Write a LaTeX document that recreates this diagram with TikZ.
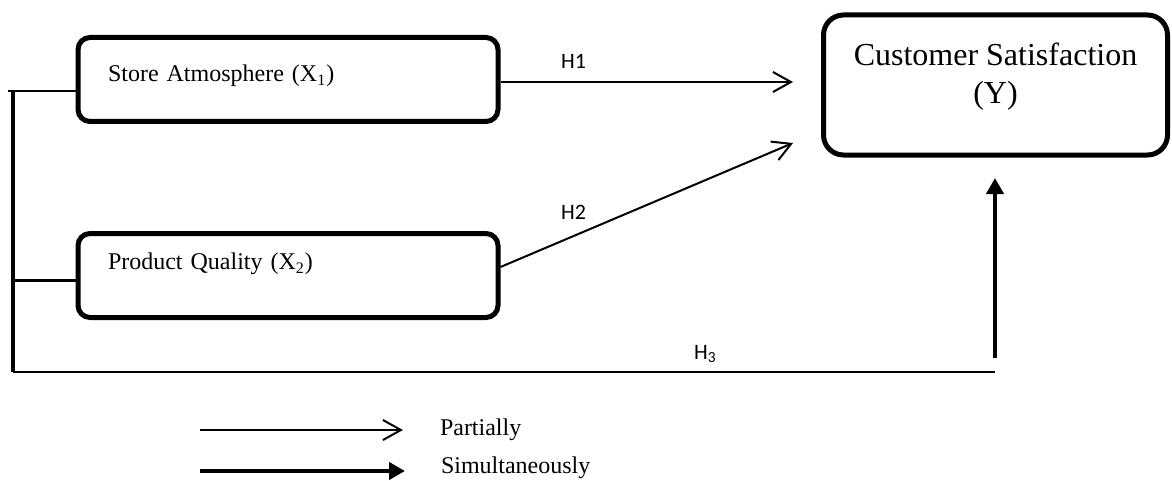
\documentclass[tikz,border=0pt]{standalone}
\usepackage{fontspec}
\setmainfont{Liberation Serif}
\newfontfamily\hypfont{Carlito}
\usetikzlibrary{arrows.meta}
\newcommand{\xvar}[2]{#1 (X\textsubscript{#2})}

\begin{document}
\begin{tikzpicture}[x=0.5pt, y=-0.5pt,
    construct/.style={draw, line width=2.5pt, rounded corners=6pt,
      minimum width=210pt, minimum height=42pt, text width=180pt,
      align=left, font=\fontsize{12}{14}\selectfont},
    outcome/.style={draw, line width=2.5pt, rounded corners=10pt,
      minimum width=172pt, minimum height=70pt, align=center,
      font=\fontsize{16}{19}\selectfont},
    partial/.style={line width=1pt, -{Straight Barb[length=9pt,width=10pt]}},
    simul/.style={line width=2pt, -{Triangle[length=8pt,width=8.5pt]}},
    link/.style={line width=1pt},
    hyp/.style={font=\hypfont\fontsize{11}{13}\selectfont, inner sep=0pt},
    key/.style={font=\fontsize{12}{14}\selectfont, inner sep=0pt}]

\useasboundingbox (0,0) rectangle (1172,481);

% variables
\node[construct, text depth=6pt] (store) at (288,79.5) {\xvar{Store Atmosphere}{1}};
\node[construct, text depth=14pt] (quality) at (288,275.5) {\xvar{Product Quality}{2}};
\node[outcome, text depth=12pt] (satisfaction) at (995.5,85) {Customer Satisfaction\\(Y)};

% free ends
\coordinate (h1 end) at (793,82);
\coordinate (h2 end) at (793,143);
\coordinate (spine top) at (13,91);
\coordinate (spine foot) at (13,372);
\coordinate (h3 start) at (995,358);

% H1, H2 (partially)
\draw[partial] (store.east |- h1 end) -- (h1 end)
  node[hyp, pos=0.25, above=6pt] (h1) {H1};
\draw[partial] ([yshift=4.25pt]quality.east) -- (h2 end)
  node[hyp, pos=0.25, above=8pt] (h2) {H2};

% H3 (simultaneously)
\draw[link] ([yshift=-5.75pt]store.west) -- ++(-68,0);
\draw[line width=1.5pt] ([yshift=-2.25pt]quality.west) -- ([yshift=-2.25pt]quality.west -| spine top);
\draw[line width=1.75pt] (spine top) -- (spine foot);
\draw[link] (spine foot) -- (spine foot -| h3 start)
  node[hyp, pos=0.705, above=4pt] (h3) {H\textsubscript{3}};
\draw[simul, shorten >=10.25pt] (h3 start) -- (h3 start |- satisfaction.south);

% legend
\coordinate (key partial) at (200,430);
\coordinate (key simul) at (200,471);
\draw[partial] (key partial) -- ++(203,0)
  node[key, right=18pt] (partial label) {Partially};
\draw[simul] (key simul) -- ++(205,0)
  node[key, right=17pt, yshift=1.5pt] (simul label) {Simultaneously};

\end{tikzpicture}
\end{document}
